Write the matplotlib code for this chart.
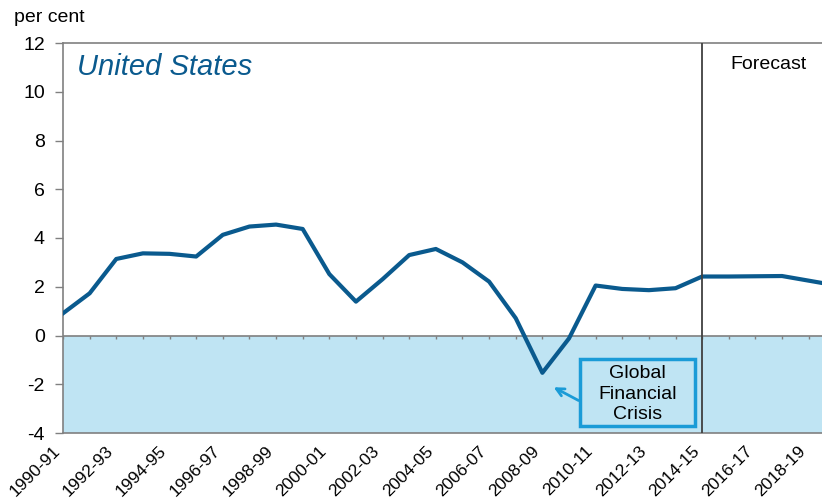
import matplotlib.pyplot as plt
from matplotlib.patches import Rectangle

plt.rcParams['font.family'] = ['Liberation Sans', 'DejaVu Sans']
plt.rcParams['axes.unicode_minus'] = False

# Financial years 1990-91 .. 2019-20
years = [f"{y}-{str(y + 1)[-2:]}" for y in range(1990, 2020)]
growth = [0.91, 1.73, 3.14, 3.37, 3.35, 3.24, 4.13, 4.47, 4.55, 4.37,
          2.52, 1.39, 2.31, 3.30, 3.55, 3.00, 2.21, 0.71, -1.53, -0.12,
          2.05, 1.91, 1.86, 1.94, 2.42, 2.42, 2.43, 2.44, 2.25, 2.06]
forecast_start = "2014-15"

line_col = '#0a5a8e'
fill_col = '#bfe4f3'
box_col = '#1a9bd7'
grey = '#808080'

fig = plt.figure(figsize=(8.22, 5.04), dpi=100)
ax = fig.add_axes([63 / 822, 1 - 433 / 504, 1 - 63 / 822, (433 - 43) / 504])

x = list(range(len(years)))
ax.axhspan(-4, 0, color=fill_col, zorder=0)
ax.axhline(0, color=grey, lw=1.2, zorder=1)
ax.vlines(x, -0.16, 0, color=grey, lw=1, zorder=1)
ax.plot(x, growth, color=line_col, lw=3, zorder=3, solid_joinstyle='round')

fx = years.index(forecast_start)
ax.axvline(fx, color='#404040', lw=1.3, zorder=4)

ax.set_xlim(0, 28.5)
ax.set_ylim(-4, 12)
ax.set_yticks(range(-4, 13, 2))
ax.set_xticks(x[::2])
ax.set_xticklabels(years[::2], rotation=45, ha='right', va='bottom',
                   rotation_mode='anchor')
ax.tick_params(axis='x', length=0, pad=15, labelsize=12.5)
ax.tick_params(axis='y', length=6, width=1, color=grey, labelsize=14, pad=7)

for s in ['left', 'top', 'bottom']:
    ax.spines[s].set_color(grey)
    ax.spines[s].set_linewidth(1.2)
ax.spines['right'].set_visible(False)

ax.text(0.018, 0.975, "United States", transform=ax.transAxes, fontsize=21,
        style='italic', color=line_col, va='top', ha='left')
ax.text(fx + 2.5, 11.1, "Forecast", fontsize=14, ha='center', va='center')

# Annotation box
ax.add_patch(Rectangle((19.41, -3.72), 4.32, 2.75, facecolor='none',
                       edgecolor=box_col, lw=2.5, zorder=5))
ax.text(21.57, -2.42, "Global\nFinancial\nCrisis", fontsize=14, ha='center',
        va='center', linespacing=1.27, zorder=6)
ax.annotate("", xy=(18.33, -2.07), xytext=(19.45, -2.72),
            arrowprops=dict(arrowstyle='->', color=box_col, lw=2,
                            mutation_scale=14), zorder=5)

fig.text(0.017, 0.965, "per cent", fontsize=14, va='center', ha='left')

fig.savefig("out.png", dpi=100)
